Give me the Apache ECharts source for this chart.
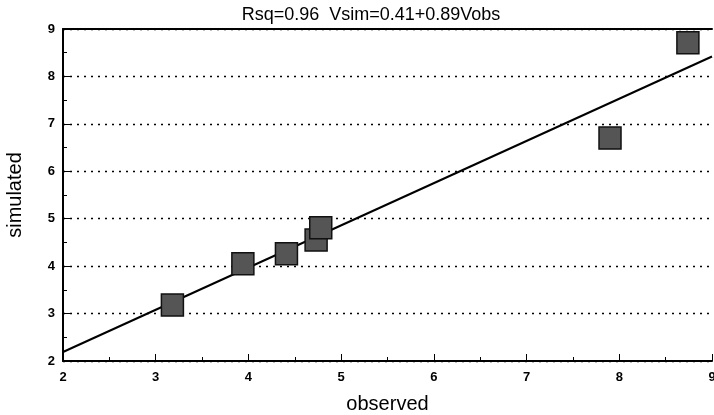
<!DOCTYPE html>
<html><head><meta charset="utf-8">
<script src="https://cdn.jsdelivr.net/npm/echarts@6/dist/echarts.min.js"></script>
<style>html,body{margin:0;padding:0;background:#fff}#c{width:714px;height:415px}</style>
</head><body><div id="c"></div>
<script>
const observed = [3.18, 3.94, 4.41, 4.73, 4.78, 7.90, 8.74];
const simulated = [3.18, 4.05, 4.26, 4.55, 4.81, 6.70, 8.71];
const fitX = [2, 9];
const fitY = [2.19, 8.42];
const titleText = 'Rsq=0.96  Vsim=0.41+0.89Vobs';

const chart = echarts.init(document.getElementById('c'));
const FF = 'Liberation Sans, Arial, sans-serif';
const axisLab = {color:'#000', fontWeight:'bold', fontSize:13, fontFamily:FF};
chart.setOption({
  animation:false,
  title:{text:titleText, left:366, top:1, textAlign:'center',
    textStyle:{fontSize:18, fontWeight:'normal', color:'#000', fontFamily:FF}},
  grid:{left:63, right:2, top:29, bottom:54, containLabel:false, outerBoundsMode:'none'},
  xAxis:[{type:'value', min:2, max:9, interval:1,
    name:'observed', nameLocation:'middle', nameGap:33,
    nameTextStyle:{fontSize:20, color:'#000', fontFamily:FF},
    axisLine:{lineStyle:{color:'#000', width:2}},
    axisTick:{inside:true, length:7, lineStyle:{color:'#000'}},
    minorTick:{show:true, splitNumber:2, length:4, lineStyle:{color:'#000'}},
    axisLabel:Object.assign({margin:10}, axisLab),
    splitLine:{show:false}},
   {type:'value', position:'top', min:2, max:9, axisLine:{show:true, onZero:false, lineStyle:{color:'#000', width:2}},
    axisTick:{show:false}, axisLabel:{show:false}, splitLine:{show:false}}],
  yAxis:{type:'value', min:2, max:9, interval:1,
    name:'simulated', nameLocation:'middle', nameGap:38,
    nameTextStyle:{fontSize:20, color:'#000', fontFamily:FF},
    axisLine:{show:true, lineStyle:{color:'#000', width:2}},
    axisTick:{show:true, inside:true, length:7, lineStyle:{color:'#000'}},
    minorTick:{show:true, splitNumber:2, length:4, lineStyle:{color:'#000'}},
    axisLabel:Object.assign({margin:8}, axisLab),
    splitLine:{show:true, lineStyle:{color:'#000', width:1.3, type:[2,5]}}},
  series:[
    {type:'line', data:fitX.map((x,i)=>[x,fitY[i]]), showSymbol:false, symbol:'none',
      lineStyle:{color:'#000', width:2}, z:2},
    {type:'scatter', data:observed.map((x,i)=>[x,simulated[i]]), symbol:'rect', symbolSize:22,
      itemStyle:{color:'#555', borderColor:'#111', borderWidth:1.5, opacity:1}, z:3}
  ]
});
</script></body></html>
